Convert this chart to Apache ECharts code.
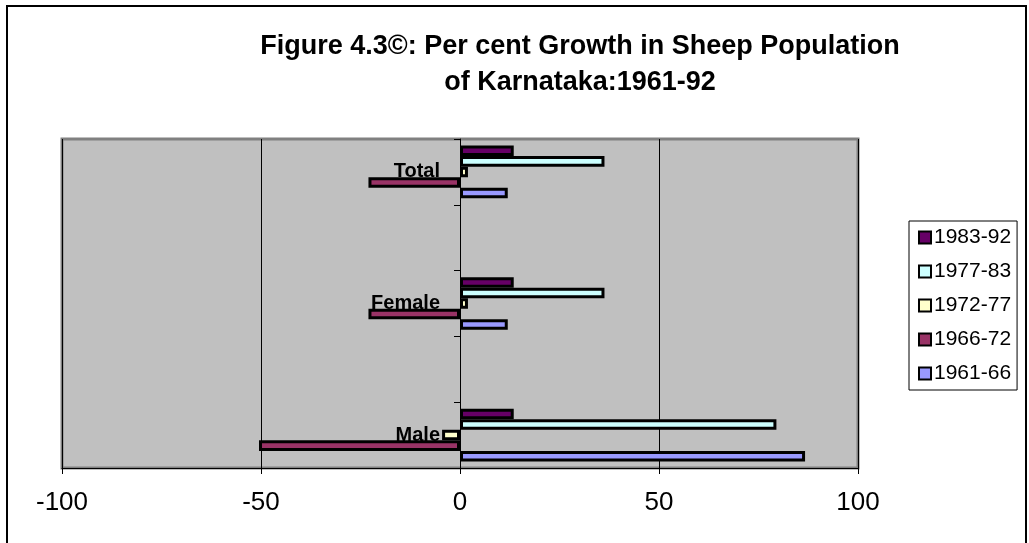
<!DOCTYPE html>
<html>
<head>
<meta charset="utf-8">
<script src="https://cdn.jsdelivr.net/npm/echarts@6/dist/echarts.min.js"></script>
<style>
  html, body { margin: 0; padding: 0; background: #fff; }
  #chart { width: 1029px; height: 543px; }
</style>
</head>
<body>
<div id="chart"></div>
<script>
// categories from bottom to top (empty slots keep Excel's spacing)
var categories = ['Male', '', 'Female', '', 'Total'];

// periods as listed in the legend, top to bottom
var periods = ['1983-92', '1977-83', '1972-77', '1966-72', '1961-66'];
var colors = ['#660066', '#ccffff', '#ffffcc', '#993366', '#9999ff'];

// per cent growth, order follows categories
var g1983_92 = [13.5, null, 13.5, null, 13.5];
var g1977_83 = [79.5, null, 36.3, null, 36.3];
var g1972_77 = [-4.5, null, 2, null, 2];
var g1966_72 = [-50.5, null, -23, null, -23];
var g1961_66 = [86.7, null, 12, null, 12];

var values = [g1983_92, g1977_83, g1972_77, g1966_72, g1961_66];

var xTicks = [-100, -50, 0, 50, 100];

window.onload = function () {
  var myChart = echarts.init(document.getElementById('chart'));
  var font = '"Liberation Sans", Arial, sans-serif';

  var series = periods.map(function (p, i) {
    return {
      name: p,
      type: 'bar',
      data: values[i],
      barGap: '0%',
      barCategoryGap: '20%',
      itemStyle: {
        color: colors[i],
        borderColor: '#000',
        borderWidth: 3
      }
    };
  });

  var option = {
    animation: false,
    title: {
      text: 'Figure 4.3\u00a9: Per cent Growth in Sheep Population\nof Karnataka:1961-92',
      left: 575,
      top: 24,
      textAlign: 'center',
      textStyle: {
        fontFamily: font,
        fontSize: 27,
        fontWeight: 'bold',
        color: '#000',
        lineHeight: 36
      }
    },
    legend: {
      orient: 'vertical',
      left: 909,
      top: 221,
      padding: [6, 6, 6, 9],
      itemGap: 13,
      itemWidth: 12,
      itemHeight: 12,
      icon: 'rect',
      backgroundColor: '#fff',
      borderColor: '#000',
      borderWidth: 1,
      borderRadius: 0,
      data: periods,
      textStyle: { fontFamily: font, fontSize: 21, color: '#000', padding: [0, 0, 0, -2] }
    },
    grid: {
      left: 62,
      right: 171,
      top: 139,
      bottom: 75,
      containLabel: false,
      outerBoundsMode: 'none',
      show: true,
      backgroundColor: '#c0c0c0',
      borderColor: '#808080',
      borderWidth: 3
    },
    xAxis: {
      type: 'value',
      min: xTicks[0],
      max: xTicks[xTicks.length - 1],
      interval: 50,
      axisLine: { show: true, lineStyle: { color: '#000', width: 1 } },
      axisTick: { show: true, length: 6, lineStyle: { color: '#000' } },
      axisLabel: { fontFamily: font, fontSize: 26, color: '#000', margin: 22 },
      splitLine: { show: true, lineStyle: { color: '#000', width: 1 } }
    },
    yAxis: {
      type: 'category',
      data: categories,
      axisLine: { show: true, onZero: true, lineStyle: { color: '#000', width: 1 } },
      axisTick: { show: true, length: 6, lineStyle: { color: '#000' } },
      axisLabel: { fontFamily: font, fontSize: 20, fontWeight: 'bold', color: '#000', margin: -378 },
      splitLine: { show: false }
    },
    graphic: [{
      type: 'rect',
      silent: true,
      z: -10,
      shape: { x: 7, y: 6, width: 1019, height: 560 },
      style: { fill: null, stroke: '#000', lineWidth: 2 }
    }],
    series: series
  };

  myChart.setOption(option);
};
</script>
</body>
</html>
